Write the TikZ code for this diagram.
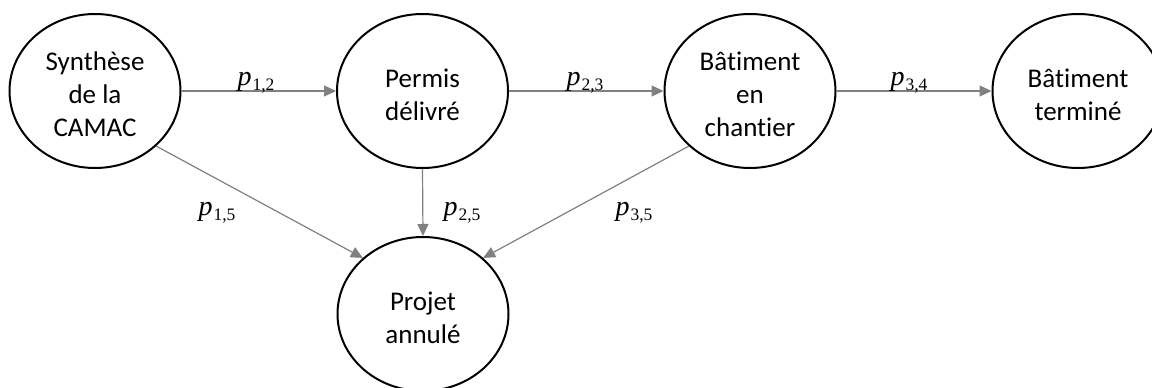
\documentclass[tikz,border=0pt]{standalone}
\usepackage{fontspec}
\setmainfont{Carlito}[Ligatures=NoCommon]
\newfontfamily\probfont{Liberation Serif}
\usetikzlibrary{shapes.geometric,arrows.meta}

\definecolor{flowgray}{HTML}{808080}
% transition probability symbol p with an upright index
\newcommand{\probsym}[1]{{\itshape p}\kern1pt\raisebox{-5pt}{\fontsize{17.5}{17.5}\selectfont\upshape #1}}
% state caption, set slightly below the centre of its ellipse
\newcommand{\statetext}[1]{\raisebox{-3pt}[\dimexpr\height+3pt][\dimexpr\depth-3pt]{\begin{tabular}{@{}c@{}}#1\end{tabular}}}
\tikzset{
  state/.style={ellipse, draw=black, line width=2pt, minimum width=171pt,
    minimum height=154pt, inner sep=0pt,
    font=\fontsize{27}{33}\selectfont},
  flow/.style={draw=flowgray, line width=1.2pt,
    -{Triangle[length=12pt,width=11pt]}},
  prob/.style={anchor=base, inner sep=0pt,
    font=\probfont\fontsize{28}{30}\selectfont}
}

\begin{document}
\begin{tikzpicture}[x=1pt,y=-1pt]
  \useasboundingbox (0,0) rectangle (1152,388);
  \clip (0,0) rectangle (1152,388);

  % states of the building permit process
  \node[state] (synth)  at (95,91)    {\statetext{Synthèse\\de la\\CAMAC}};
  \node[state] (permis) at (422.5,91) {\statetext{Permis\\délivré}};
  \node[state] (chant)  at (750,91)   {\statetext{Bâtiment\\en\\chantier}};
  \node[state] (termin) at (1078,91)  {\statetext{Bâtiment\\terminé}};
  \node[state] (annul)  at (423,314)  {\statetext{Projet\\annulé}};

  % transitions
  \draw[flow] (synth.east)  -- (permis.west);
  \draw[flow] (permis.east) -- (chant.west);
  \draw[flow] (chant.east)  -- (termin.west);
  \draw[flow] (synth.-42)   -- (annul.137);
  \draw[flow] (permis.south) -- (annul.north);
  \draw[flow] (chant.-138)  -- (annul.43);

  % transition probabilities
  \node[prob] (p12) at (256,85)  {\probsym{1,2}};
  \node[prob] (p23) at (585,85)  {\probsym{2,3}};
  \node[prob] (p34) at (909,85)  {\probsym{3,4}};
  \node[prob] (p15) at (217,215) {\probsym{1,5}};
  \node[prob] (p25) at (462,215) {\probsym{2,5}};
  \node[prob] (p35) at (634,215) {\probsym{3,5}};
\end{tikzpicture}
\end{document}
